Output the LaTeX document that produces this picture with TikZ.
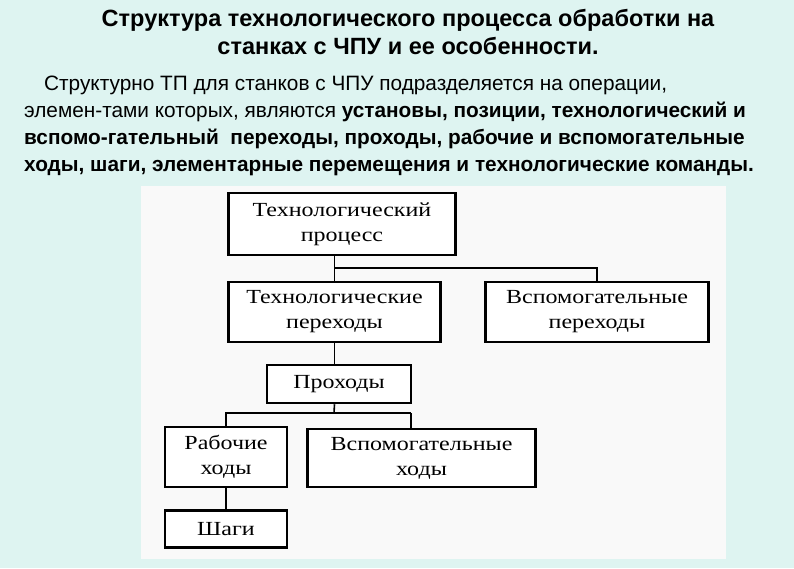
\documentclass[tikz,border=0pt]{standalone}
\usepackage{fontspec}
\setmainfont{Liberation Sans}
\newfontfamily\boxserif[FakeStretch=1.2]{Liberation Serif}
\definecolor{bgc}{HTML}{DEF4F1}
\definecolor{panelc}{HTML}{F9F9F9}
\tikzset{
  box/.style={draw=black, line width=2.5pt, fill=white, align=center, inner sep=0pt,
    font=\boxserif\fontsize{20}{25}\selectfont},
  conn/.style={line width=1.6pt},
  line/.style={anchor=base west, inner sep=0pt, font=\fontsize{20.8}{25}\selectfont},
  ttl/.style={anchor=base, inner sep=0pt, font=\bfseries\fontsize{23.5}{27}\selectfont}
}
\begin{document}
\begin{tikzpicture}[x=1pt,y=-1pt]
\useasboundingbox (0,0) rectangle (794,568);
\fill[bgc] (0,0) rectangle (794,568);
\fill[panelc] (141,186) rectangle (726,559);
% title
\node[ttl] (t1) at (408,26) {Структура технологического процесса обработки на};
\node[ttl] (t2) at (408,54) {станках с ЧПУ и ее особенности.};
% paragraph
\node[line] (p1) at (44,90) {Структурно ТП для станков с ЧПУ подразделяется на операции,};
\node[line] (p2) at (24,117) {элемен-тами которых, являются \textbf{установы, позиции, технологический и}};
\node[line] (p3) at (24,144) {\textbf{вспомо-гательный\ \ переходы, проходы, рабочие и вспомогательные}};
\node[line] (p4) at (24,171) {\textbf{ходы, шаги, элементарные перемещения и технологические команды.}};
% boxes
\node[box, minimum width=227pt, minimum height=62pt] (b1) at (342,224) {Технологический\\процесс};
\node[box, minimum width=212pt, minimum height=60pt] (b2) at (334.5,312) {Технологические\\переходы};
\node[box, minimum width=223pt, minimum height=60pt] (b3) at (597,312) {Вспомогательные\\переходы};
\node[box, minimum width=144pt, minimum height=38pt] (b4) at (339,384) {Проходы};
\node[box, minimum width=122pt, minimum height=60pt] (b5) at (226,457) {Рабочие\\ходы};
\node[box, minimum width=228pt, minimum height=58pt] (b6) at (421.5,458) {Вспомогательные\\ходы};
\node[box, minimum width=122pt, minimum height=37pt] (b7) at (226,529) {Шаги};
% connectors
\coordinate (j1) at (334,268);
\coordinate (j2) at (334,413);
\coordinate (j3) at (411,413);
\draw[conn] (b2.north) -- (b2.north |- b1.south);
\draw[conn] (j1) -| (b3.north);
\draw[conn] (b2.south) -- (b2.south |- b4.north);
\draw[conn] (b2.south |- b4.south) -- (j2);
\draw[conn] (j3) -| (b5.north);
\draw[conn] (j3) -- (j3 |- b6.north);
\draw[conn] (b5.south) -- (b7.north);
\end{tikzpicture}
\end{document}
